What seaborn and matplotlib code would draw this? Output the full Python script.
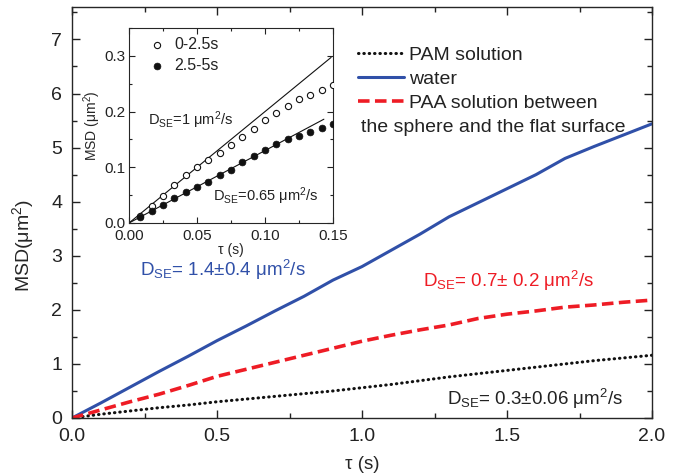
import numpy as np
import pandas as pd
import matplotlib
matplotlib.use("Agg")
import matplotlib.pyplot as plt
from matplotlib.ticker import MultipleLocator, FormatStrFormatter
import seaborn as sns

# ---- main panel: MSD curves over lag time ----
tau = [0.0, 0.1, 0.2, 0.3, 0.4, 0.5, 0.6, 0.7, 0.8, 0.9, 1.0,
       1.1, 1.2, 1.3, 1.4, 1.5, 1.6, 1.7, 1.8, 1.9, 2.0]
msd_pam = [0.00, 0.07, 0.13, 0.19, 0.24, 0.30, 0.35, 0.40, 0.45, 0.50, 0.56,
           0.62, 0.69, 0.76, 0.82, 0.88, 0.94, 1.00, 1.06, 1.11, 1.16]
msd_water = [0.00, 0.28, 0.57, 0.86, 1.14, 1.43, 1.70, 1.98, 2.25, 2.55, 2.80,
             3.10, 3.40, 3.72, 3.98, 4.24, 4.50, 4.80, 5.02, 5.23, 5.44]
msd_paa = [0.00, 0.15, 0.30, 0.44, 0.60, 0.77, 0.90, 1.03, 1.16, 1.29, 1.42,
           1.53, 1.63, 1.72, 1.84, 1.92, 1.98, 2.05, 2.09, 2.14, 2.18]
series_labels = ["PAM solution", "water", "PAA solution between"]
label_line2 = "the sphere and the flat surface"
d_se_text = ["D$_{\\mathrm{SE}}$= 0.3\u00b10.06 \u03bcm$^{2}$/s",
             "D$_{\\mathrm{SE}}$= 1.4\u00b10.4 \u03bcm$^{2}$/s",
             "D$_{\\mathrm{SE}}$= 0.7\u00b1 0.2 \u03bcm$^{2}$/s"]

# ---- inset: short-time MSD for two time windows ----
tau_in = [0.0083, 0.0167, 0.025, 0.0333, 0.0417, 0.05, 0.0583, 0.0667, 0.075,
          0.0833, 0.0917, 0.1, 0.1083, 0.1167, 0.125, 0.1333, 0.1417, 0.15]
msd_early = [0.012, 0.030, 0.049, 0.069, 0.087, 0.101, 0.113, 0.126, 0.140,
             0.154, 0.169, 0.184, 0.198, 0.210, 0.222, 0.230, 0.239, 0.248]
msd_late = [0.010, 0.022, 0.033, 0.045, 0.055, 0.064, 0.074, 0.086, 0.096,
            0.109, 0.120, 0.131, 0.141, 0.150, 0.157, 0.163, 0.170, 0.178]
window_labels = ["0-2.5s", "2.5-5s"]
d_fit = [1.0, 0.65]
fit_tau_end = [0.1486, 0.1433]
fit_text = ["D$_{\\mathrm{SE}}$=1 \u03bcm$^{2}$/s",
            "D$_{\\mathrm{SE}}$=0.65 \u03bcm$^{2}$/s"]

sns.set_style("ticks")
plt.rcParams["font.family"] = ["Liberation Sans", "DejaVu Sans"]
plt.rcParams["mathtext.fontset"] = "custom"
plt.rcParams["mathtext.rm"] = "Liberation Sans"
plt.rcParams["mathtext.it"] = "Liberation Sans:italic"
plt.rcParams["axes.linewidth"] = 1.0
plt.rcParams["text.color"] = "#222222"

W, H = 681, 476
fig = plt.figure(figsize=(W / 100, H / 100), dpi=100)


def fbox(l, t, r, b):
    return [l / W, 1 - b / H, (r - l) / W, (b - t) / H]


ax = fig.add_axes(fbox(72, 7, 652, 418))

blue = "#3050a8"
red = "#ee1c25"

df = pd.DataFrame({"tau": tau, "pam": msd_pam, "water": msd_water, "paa": msd_paa})
sns.lineplot(data=df, x="tau", y="pam", ax=ax, color="#111111", lw=2.2,
             linestyle=(0, (0.15, 1.6)), dash_capstyle="round",
             label=series_labels[0])
sns.lineplot(data=df, x="tau", y="water", ax=ax, color=blue, lw=2.2,
             label=series_labels[1])
sns.lineplot(data=df, x="tau", y="paa", ax=ax, color=red, lw=2.6,
             linestyle=(0, (3.2, 1.5)), label=series_labels[2])

ax.set_xlim(0, 2.0)
ax.set_ylim(0, 7.6)
ax.xaxis.set_major_locator(MultipleLocator(0.5))
ax.xaxis.set_minor_locator(MultipleLocator(0.25))
ax.xaxis.set_major_formatter(FormatStrFormatter("%.1f"))
ax.yaxis.set_major_locator(MultipleLocator(1))
ax.yaxis.set_minor_locator(MultipleLocator(0.5))
ax.tick_params(which="both", direction="in", top=True, right=True,
               labelsize=14, colors="#222222", pad=7)
ax.tick_params(which="major", length=6, width=1)
ax.tick_params(which="minor", length=3.5, width=1)
ax.set_xlabel("\u03c4 (s)", fontsize=13.5, labelpad=8)
ax.set_ylabel("MSD(\u03bcm$^{2}$)", fontsize=14)
ax.yaxis.set_label_coords(-0.062, 0.42)

leg = ax.legend(loc="upper left", bbox_to_anchor=(358 / W, 1 - 46 / H),
                bbox_transform=fig.transFigure, frameon=False, fontsize=14,
                handlelength=2.35, handletextpad=0.25, labelspacing=0.34,
                borderpad=0, borderaxespad=0)
fig.text(361 / W, 1 - 128 / H, label_line2, fontsize=14, va="center",
         ha="left", color="#222222")

ax.text(1.293, 0.24, d_se_text[0], fontsize=13.5, color="#222222",
        ha="left", va="baseline")
ax.text(0.234, 2.62, d_se_text[1], fontsize=13.5, color=blue,
        ha="left", va="baseline")
ax.text(1.21, 2.43, d_se_text[2], fontsize=13.5, color=red,
        ha="left", va="baseline")

# ---- inset ----
axi = fig.add_axes(fbox(129, 28, 333, 223))
for d, t_end in zip(d_fit, fit_tau_end):
    fit_x = [0.0, t_end]
    fit_y = [2 * d * x for x in fit_x]
    sns.lineplot(x=fit_x, y=fit_y, ax=axi, color="#111111", lw=0.8)

dfi = pd.DataFrame({"tau": tau_in, "early": msd_early, "late": msd_late})
sns.scatterplot(data=dfi, x="tau", y="early", ax=axi, marker="o", s=20,
                facecolor="white", edgecolor="#111111", linewidth=0.8,
                label=window_labels[0], zorder=3)
sns.scatterplot(data=dfi, x="tau", y="late", ax=axi, marker="o", s=24,
                color="#111111", edgecolor="#111111", linewidth=0.5,
                label=window_labels[1], zorder=4)

axi.set_xlim(0, 0.15)
axi.set_ylim(0, 0.35)
axi.xaxis.set_major_locator(MultipleLocator(0.05))
axi.xaxis.set_minor_locator(MultipleLocator(0.025))
axi.xaxis.set_major_formatter(FormatStrFormatter("%.2f"))
axi.yaxis.set_major_locator(MultipleLocator(0.1))
axi.yaxis.set_minor_locator(MultipleLocator(0.05))
axi.yaxis.set_major_formatter(FormatStrFormatter("%.1f"))
axi.tick_params(which="both", direction="in", top=True, right=True,
                labelsize=11, colors="#222222")
axi.tick_params(axis="x", pad=4.5)
axi.tick_params(axis="y", pad=2.5)
axi.tick_params(which="major", length=4, width=0.8)
axi.tick_params(which="minor", length=2.5, width=0.8)
for s in axi.spines.values():
    s.set_linewidth(0.8)
axi.set_xlabel("\u03c4 (s)", fontsize=10, labelpad=0)
axi.set_ylabel("MSD (\u03bcm$^{2}$)", fontsize=10, labelpad=1)

axi.legend(loc="upper left", bbox_to_anchor=(149 / W, 1 - 37 / H),
           bbox_transform=fig.transFigure, frameon=False, fontsize=11.5,
           handlelength=1.0, handletextpad=0.6, labelspacing=0.4,
           borderpad=0, borderaxespad=0)
axi.text(0.014, 0.176, fit_text[0], fontsize=10.5, ha="left", va="baseline")
axi.text(0.0618, 0.040, fit_text[1], fontsize=10.5, ha="left", va="baseline")

fig.savefig("out.png", dpi=100)
